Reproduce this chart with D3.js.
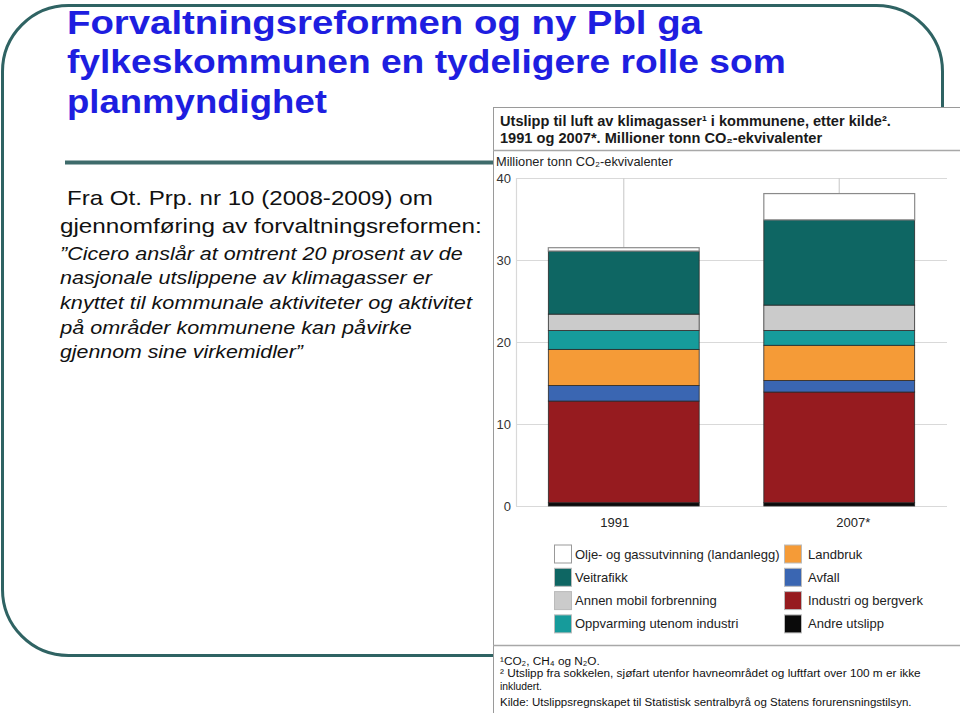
<!DOCTYPE html>
<html>
<head>
<meta charset="utf-8">
<script src="https://cdn.jsdelivr.net/npm/d3@7"></script>
<style>
  html, body { margin: 0; padding: 0; background: #fff; }
  svg { display: block; }
</style>
</head>
<body>
<svg id="chart" width="960" height="713"></svg>
<script>
// ---------- DATA ----------
const categories = ["1991", "2007*"];
const seriesNames = [
  "Andre utslipp",
  "Industri og bergverk",
  "Avfall",
  "Landbruk",
  "Oppvarming utenom industri",
  "Annen mobil forbrenning",
  "Veitrafikk",
  "Olje- og gassutvinning (landanlegg)"
];
const values1991 = [0.4, 12.4, 1.9, 4.4, 2.3, 2.0, 7.7, 0.4];
const values2007 = [0.4, 13.5, 1.4, 4.3, 1.8, 3.1, 10.4, 3.2];
const yTicks = [0, 10, 20, 30, 40];
const seriesColors = ["#0a0a0a", "#961b1f", "#3a66b2", "#f59b37", "#169b9b", "#cbcbcb", "#0e6663", "#ffffff"];
const legendLeft = ["Olje- og gassutvinning (landanlegg)", "Veitrafikk", "Annen mobil forbrenning", "Oppvarming utenom industri"];
const legendRight = ["Landbruk", "Avfall", "Industri og bergverk", "Andre utslipp"];

const slideTitle = ["Forvaltningsreformen og ny Pbl ga", "fylkeskommunen en tydeligere rolle som", "planmyndighet"];

// ---------- SETUP ----------
const svg = d3.select("#chart");
const colorOf = d3.scaleOrdinal().domain(seriesNames).range(seriesColors);

function fit(sel, w) {
  sel.each(function () {
    const bb = this.getBBox();
    if (!bb.width) return;
    const k = w / bb.width, x0 = bb.x;
    d3.select(this).attr("transform", `translate(${x0},0) scale(${k},1) translate(${-x0},0)`);
  });
}

// ---------- SLIDE FRAME ----------
svg.append("rect")
  .attr("x", 2.5).attr("y", 5.5).attr("width", 940).attr("height", 650)
  .attr("rx", 66).attr("ry", 66)
  .attr("fill", "none").attr("stroke", "#2f6363").attr("stroke-width", 3);

svg.append("line")
  .attr("x1", 65).attr("x2", 943).attr("y1", 162.5).attr("y2", 162.5)
  .attr("stroke", "#3e6b6b").attr("stroke-width", 4);

// Title
const titleWidths = [636, 719, 260];
slideTitle.forEach((t, i) => {
  const el = svg.append("text")
    .attr("x", 67).attr("y", 34 + i * 39.5)
    .attr("font-family", "Liberation Sans, Arial, sans-serif")
    .attr("font-weight", "bold").attr("font-size", 33)
    .attr("fill", "#1e1ee0").text(t);
  fit(el, titleWidths[i]);
});

// Left body text
const bodyLines = [
  { t: "Fra Ot. Prp. nr 10 (2008-2009) om", x: 67, y: 205, w: 366, it: false, fs: 20 },
  { t: "gjennomføring av forvaltningsreformen:", x: 60, y: 233, w: 422, it: false, fs: 20 },
  { t: "”Cicero anslår at omtrent 20 prosent av de", x: 60, y: 260, w: 403, it: true, fs: 19 },
  { t: "nasjonale utslippene av klimagasser er", x: 60, y: 284.5, w: 373, it: true, fs: 19 },
  { t: "knyttet til kommunale aktiviteter og aktivitet", x: 60, y: 309.5, w: 413, it: true, fs: 19 },
  { t: "på områder kommunene kan påvirke", x: 60, y: 334, w: 353, it: true, fs: 19 },
  { t: "gjennom sine virkemidler”", x: 60, y: 358.5, w: 245, it: true, fs: 19 }
];
bodyLines.forEach(d => {
  const el = svg.append("text")
    .attr("x", d.x).attr("y", d.y)
    .attr("font-family", "Liberation Sans, Arial, sans-serif")
    .attr("font-size", d.fs)
    .attr("font-style", d.it ? "italic" : "normal")
    .attr("fill", "#111").text(d.t);
  fit(el, d.w);
});

// ---------- CHART BOX ----------
const box = svg.append("g");
box.append("rect")
  .attr("x", 493.5).attr("y", 107.5).attr("width", 475).attr("height", 615)
  .attr("fill", "#fff").attr("stroke", "#9a9a9a").attr("stroke-width", 1);
box.append("line").attr("x1", 493).attr("x2", 960).attr("y1", 150.5).attr("y2", 150.5)
  .attr("stroke", "#a8a8a8").attr("stroke-width", 1.5);
box.append("line").attr("x1", 493).attr("x2", 960).attr("y1", 645.5).attr("y2", 645.5)
  .attr("stroke", "#a8a8a8").attr("stroke-width", 1.5);

const hFont = "Liberation Sans, Arial, sans-serif";
const ct1 = box.append("text").attr("x", 500).attr("y", 126.5)
  .attr("font-family", hFont).attr("font-weight", "bold").attr("font-size", 14).attr("fill", "#1a1a1a")
  .text("Utslipp til luft av klimagasser¹ i kommunene, etter kilde².");
fit(ct1, 391);

const ct2 = box.append("text").attr("x", 500).attr("y", 143)
  .attr("font-family", hFont).attr("font-weight", "bold").attr("font-size", 14).attr("fill", "#1a1a1a")
  .text("1991 og 2007*. Millioner tonn CO₂-ekvivalenter");
fit(ct2, 323);

const unit = box.append("text").attr("x", 496).attr("y", 166)
  .attr("font-family", "Liberation Sans, Arial, sans-serif").attr("font-size", 12).attr("fill", "#222")
  .text("Millioner tonn CO₂-ekvivalenter");
fit(unit, 177);

// ---------- SCALES ----------
const x = d3.scaleBand().domain(categories).range([516, 947]).paddingInner(0.3).paddingOuter(0.15);
const y = d3.scaleLinear().domain([0, 40]).range([506, 178]);

// gridlines + labels
const yAxis = d3.axisLeft(y).tickValues(yTicks).tickSizeInner(431).tickSizeOuter(0).tickPadding(5).tickFormat(d3.format("d"));
const ga = box.append("g").attr("transform", "translate(947,0)").call(yAxis);
ga.select(".domain").remove();
ga.selectAll(".tick line").attr("stroke", "#d9d9d9").attr("stroke-width", 1.2);
ga.selectAll(".tick text").attr("font-family", "Liberation Sans, Arial, sans-serif")
  .attr("font-size", 13).attr("fill", "#333");

// left vertical line
box.append("line").attr("x1", 516.5).attr("x2", 516.5).attr("y1", y(40)).attr("y2", y(0))
  .attr("stroke", "#d9d9d9").attr("stroke-width", 1.2);
// vertical lines at category centres
box.selectAll(".vgrid").data(categories).join("line")
  .attr("class", "vgrid")
  .attr("x1", d => x(d) + x.bandwidth() / 2).attr("x2", d => x(d) + x.bandwidth() / 2)
  .attr("y1", y(40)).attr("y2", y(0))
  .attr("stroke", "#cfcfcf").attr("stroke-width", 1.2);

// ---------- BARS ----------
const rows = categories.map((c, i) => {
  const vals = i === 0 ? values1991 : values2007;
  const r = { cat: c };
  seriesNames.forEach((s, j) => r[s] = vals[j]);
  return r;
});
const stacked = d3.stack().keys(seriesNames)(rows);

box.selectAll(".layer").data(stacked).join("g")
  .attr("class", "layer")
  .attr("fill", d => colorOf(d.key))
  .selectAll("rect").data(d => d.map(v => ({ v, key: d.key }))).join("rect")
  .attr("x", d => x(d.v.data.cat))
  .attr("width", x.bandwidth())
  .attr("y", d => y(d.v[1]))
  .attr("height", d => y(d.v[0]) - y(d.v[1]))
  .attr("stroke", d => d.key.startsWith("Olje") ? "#8a8a8a" : "#2a2a2a")
  .attr("stroke-width", d => d.key.startsWith("Olje") ? 1.2 : 0.8);

// x labels
const labelDx = [-9, 14];
box.selectAll(".xlab").data(categories).join("text")
  .attr("class", "xlab")
  .attr("x", (d, i) => x(d) + x.bandwidth() / 2 + labelDx[i])
  .attr("y", 527)
  .attr("text-anchor", "middle")
  .attr("font-family", "Liberation Sans, Arial, sans-serif").attr("font-size", 13).attr("fill", "#222")
  .text(d => d);

// ---------- LEGEND ----------
function legendCol(items, sx, tx) {
  items.forEach((name, i) => {
    const cy = 554 + i * 23.3;
    box.append("rect")
      .attr("x", sx + 0.5).attr("y", cy - 9).attr("width", 17).attr("height", 18)
      .attr("fill", colorOf(name))
      .attr("stroke", name.startsWith("Olje") ? "#999" : "#bbb").attr("stroke-width", 1);
    box.append("text").attr("x", tx).attr("y", cy + 4.5)
      .attr("font-family", "Liberation Sans, Arial, sans-serif").attr("font-size", 13)
      .attr("fill", "#222").text(name);
  });
}
legendCol(legendLeft, 554, 575);
legendCol(legendRight, 784, 808);

// ---------- FOOTNOTES ----------
const fnFont = "Liberation Sans, DejaVu Sans, Arial, sans-serif";
const footnotes = [
  { t: "¹CO₂, CH₄ og N₂O.", y: 665, w: 100 },
  { t: "² Utslipp fra sokkelen, sjøfart utenfor havneområdet og luftfart over 100 m er ikke", y: 677.5, w: 421 },
  { t: "inkludert.", y: 690.5, w: 42 },
  { t: "Kilde: Utslippsregnskapet til Statistisk sentralbyrå og Statens forurensningstilsyn.", y: 706, w: 412 }
];
footnotes.forEach(d => {
  const el = box.append("text").attr("x", 500).attr("y", d.y)
    .attr("font-family", fnFont).attr("font-size", 11.5).attr("fill", "#111").text(d.t);
  fit(el, d.w);
});
</script>
</body>
</html>
